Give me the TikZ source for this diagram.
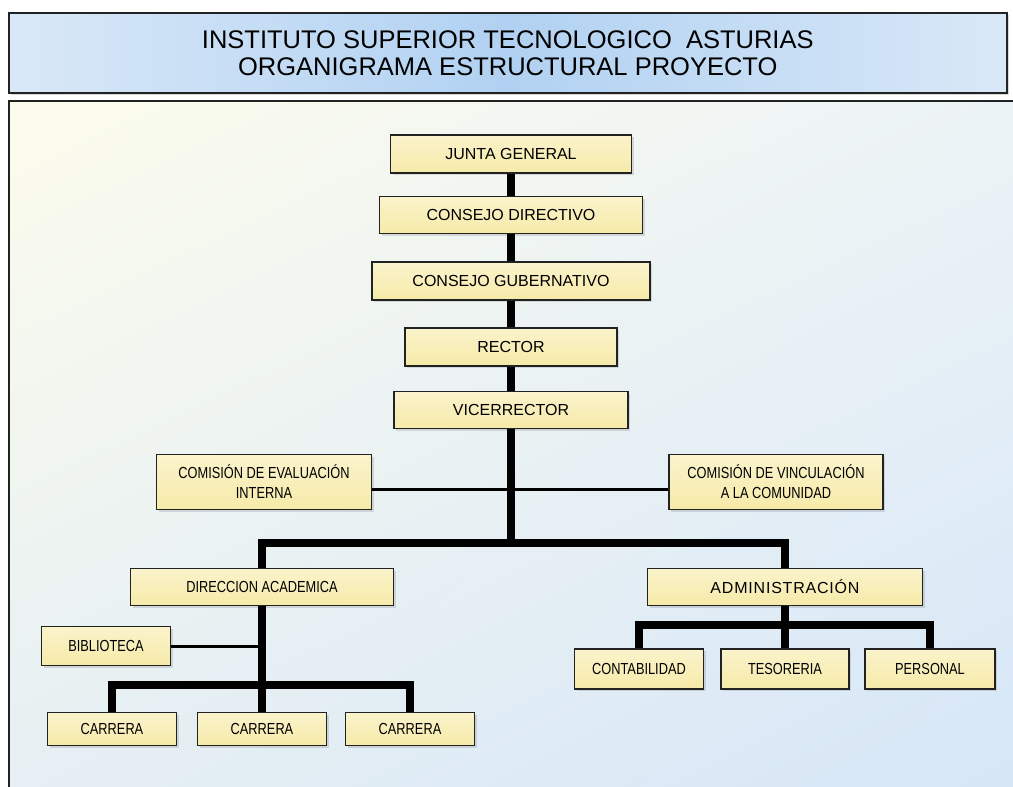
\documentclass[tikz,border=0pt]{standalone}
\usepackage{fontspec}
\setmainfont{Liberation Sans}
\newfontfamily\narrowf[FakeStretch=0.8]{Liberation Sans}
\usetikzlibrary{shadows,shadings}
\definecolor{boxfill}{HTML}{F6EAA8}
\definecolor{boxfilltop}{HTML}{FBF3CC}
\definecolor{titleblue}{HTML}{B1D1F2}
\definecolor{titlelight}{HTML}{D9E8F7}
\definecolor{edge}{HTML}{222222}
\definecolor{panelUL}{HTML}{FCFCEC}
\definecolor{panelUR}{HTML}{ECF3F6}
\definecolor{panelLL}{HTML}{E6EFF3}
\definecolor{panelLR}{HTML}{D6E6F7}
\begin{document}
\begin{tikzpicture}[x=1pt,y=-1pt,
  orgbox/.style={draw=edge, line width=1.8pt, top color=boxfilltop, bottom color=boxfill,
     drop shadow={shadow xshift=2pt, shadow yshift=-2pt, opacity=0.25},
     align=center, inner sep=0pt, font=\narrowf\fontsize{16}{20}\selectfont},
  widebox/.style={orgbox, font=\fontsize{16}{20}\selectfont},
  thick link/.style={line width=8pt, black},
  thin link/.style={line width=3pt, black},
]
\useasboundingbox (0,0) rectangle (1013,787);
\fill[white] (0,0) rectangle (1013,787);
% panel
\shade[upper left=panelUL, upper right=panelUR, lower left=panelLL, lower right=panelLR]
  (9,101) rectangle (1013,787);
\draw[edge, line width=1.5pt] (9,787) -- (9,101) -- (1013,101);
% title
\node[draw=edge, line width=1.5pt, left color=titlelight, right color=titlelight, middle color=titleblue,
      minimum width=998pt, minimum height=80pt, inner sep=0pt, anchor=north west,
      drop shadow={shadow xshift=2pt, shadow yshift=-2pt, opacity=0.3},
      align=center, font=\fontsize{25.5}{27}\selectfont] (title) at (8,12)
  {INSTITUTO SUPERIOR TECNOLOGICO\ \ ASTURIAS\\ORGANIGRAMA ESTRUCTURAL PROYECTO};

% nodes
\node[widebox, minimum width=241pt, minimum height=38pt] (junta) at (511,154) {JUNTA GENERAL};
\node[widebox, minimum width=263pt, minimum height=37pt] (cdir) at (511,215) {CONSEJO DIRECTIVO};
\node[widebox, minimum width=278pt, minimum height=38pt] (cgub) at (511,281) {CONSEJO GUBERNATIVO};
\node[widebox, minimum width=212pt, minimum height=38pt] (rector) at (511,347) {RECTOR};
\node[widebox, minimum width=234pt, minimum height=37pt] (vice) at (511,410) {VICERRECTOR};
\node[orgbox, minimum width=215pt, minimum height=55pt] (ceval) at (264,482) {COMISIÓN DE EVALUACIÓN\\INTERNA};
\node[orgbox, minimum width=214pt, minimum height=55pt] (cvinc) at (776,482) {COMISIÓN DE VINCULACIÓN\\A LA COMUNIDAD};
\node[orgbox, minimum width=263pt, minimum height=37pt] (dacad) at (262,587) {DIRECCION ACADEMICA};
\node[widebox, minimum width=275pt, minimum height=37pt, font=\fontsize{16}{20}\selectfont\addfontfeatures{LetterSpace=5}] (admin) at (785,587) {ADMINISTRACIÓN};
\node[orgbox, minimum width=129pt, minimum height=39pt] (biblio) at (106,646) {BIBLIOTECA};
\node[orgbox, minimum width=129pt, minimum height=33pt] (car1) at (112,729) {CARRERA};
\node[orgbox, minimum width=129pt, minimum height=33pt] (car2) at (262,729) {CARRERA};
\node[orgbox, minimum width=129pt, minimum height=33pt] (car3) at (410,729) {CARRERA};
\node[orgbox, minimum width=129pt, minimum height=40pt] (conta) at (639,669) {CONTABILIDAD};
\node[orgbox, minimum width=128pt, minimum height=40pt] (teso) at (785,669) {TESORERIA};
\node[orgbox, minimum width=130pt, minimum height=40pt] (pers) at (930,669) {PERSONAL};

% connectors
\coordinate (split1) at (511,543);
\coordinate (split2) at (262,685);
\coordinate (split3) at (785,625);
\draw[thick link] (junta.south) -- (cdir.north);
\draw[thick link] (cdir.south) -- (cgub.north);
\draw[thick link] (cgub.south) -- (rector.north);
\draw[thick link] (rector.south) -- (vice.north);
\draw[thin link] (ceval.east |- 0,489) -- (cvinc.west |- 0,489);
\draw[thick link] (vice.south) -- (split1);
\draw[thick link] (dacad.north) -- (dacad.north |- split1) -| (admin.north);
\draw[thin link] (biblio.east) -- (biblio.east -| split2);
\draw[thick link] (dacad.south) -- (split2);
\draw[thick link] (car1.north) -- (car1.north |- split2) -| (car3.north);
\draw[thick link] (split2) -- (car2.north);
\draw[thick link] (admin.south) -- (split3);
\draw[thick link] (conta.north) -- (conta.north |- split3) -| (pers.north);
\draw[thick link] (split3) -- (teso.north);
\end{tikzpicture}
\end{document}
